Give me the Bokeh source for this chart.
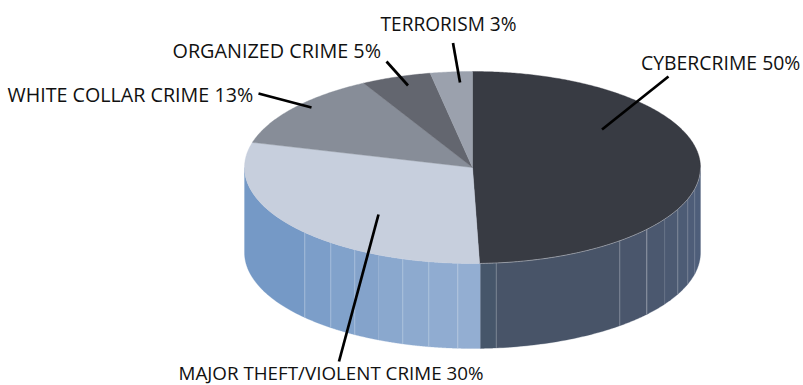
import numpy as np
from bokeh.core.properties import value
from bokeh.embed import file_html
from bokeh.models import ColumnDataSource, Range1d
from bokeh.plotting import figure
from bokeh.resources import INLINE

# Crime categories, clockwise from twelve o'clock
categories = ["CYBERCRIME", "MAJOR THEFT/VIOLENT CRIME", "WHITE COLLAR CRIME", "ORGANIZED CRIME", "TERRORISM"]
shares = [50, 30, 13, 5, 3]
top_colors = ["#383B43", "#C7CFDD", "#878D98", "#63666F", "#9BA1AD"]

# Disc geometry in page pixels
CX, CY, RX, RY, DEPTH = 472.0, 167.0, 228.0, 96.0, 85.0

# Label placement: text anchor, size, and leader line ends
label_anchor = [(640.5, 62), (178, 372.5), (7, 93.5), (172, 50), (380, 23)]
label_px = ["19.4px", "18.8px", "19.7px", "19.8px", "19.1px"]
leader_from = [(668, 76), (338.5, 361), (258, 93), (386, 61), (452.5, 42.5)]
leader_to = [(601.5, 129), (378, 214), (311, 107), (407.5, 85), (459.5, 82)]

# Wall facets: page x of each seam, with a shade for the band left of it
seam_x = [244.0, 304.3, 330.3, 354.3, 377.7, 402.3, 428.3, 457.3, 480.0,
          495.7, 619.3, 646.3, 664.3, 677.3, 687.3, 694.3, 700.0]
band_colors = ["#7599C6", "#7C9EC9", "#81A2CB", "#84A3CB", "#8AA8CE", "#8DAACF", "#90ACD1", "#93AED2",
               "#46566A", "#485468", "#4A566C", "#4B586F", "#4C5A72", "#4D5C75", "#4E5D78", "#4E5E7A"]
seam_alpha = [0, 0.28, 0.24, 0.24, 0.03, 0.22, 0.22, 0.26, 0, 0.22, 0.24, 0.34, 0.08, 0.22, 0.16, 0.12, 0]


def rim(deg, offset=0.0):
    t = np.radians(deg)
    return CX + RX * np.sin(t), CY - RY * np.cos(t) + offset


def front_y(x):
    return CY + RY * np.sqrt(np.clip(1 - ((x - CX) / RX) ** 2, 0, 1))


p = figure(width=803, height=385, output_backend="svg", toolbar_location=None,
           x_range=Range1d(0, 803), y_range=Range1d(385, 0),
           min_border=0, outline_line_color=None, background_fill_color="white")
p.axis.visible = False
p.grid.visible = False

edges = np.cumsum([0] + shares) / sum(shares) * 360.0
split = edges[1]

# Outer wall, one flat polygon per facet
wall_xs, wall_ys = [], []
for x0, x1 in zip(seam_x[:-1], seam_x[1:]):
    lo = np.degrees(np.arcsin((x0 - CX) / RX))
    hi = np.degrees(np.arcsin((x1 - CX) / RX))
    x = CX + RX * np.sin(np.radians(np.linspace(lo, hi, 40)))
    y = front_y(x)
    wall_xs.append([*x, *x[::-1]])
    wall_ys.append([*y, *(y[::-1] + DEPTH)])
p.patches(wall_xs, wall_ys, fill_color=band_colors, line_color=band_colors, line_width=0.3)

# Pale seams between facets
seam_xs = [[x, x] for x in seam_x]
seam_ys = [[front_y(x), front_y(x) + DEPTH] for x in seam_x]
p.multi_line(seam_xs, seam_ys, line_color="white", line_alpha=seam_alpha, line_width=1)

# Top face wedges
top_xs, top_ys = [], []
for lo, hi in zip(edges[:-1], edges[1:]):
    t = np.linspace(lo, hi, max(8, int(hi - lo) * 2))
    x, y = rim(t)
    top_xs.append([CX, *x])
    top_ys.append([CY, *y])
p.patches(top_xs, top_ys, fill_color=top_colors, line_color=top_colors, line_width=0.4)

# Thin highlight along the front rim of the dark wedge
x, y = rim(np.linspace(90, split, 120))
p.line(x, y, line_color="#C9CED8", line_alpha=0.7, line_width=0.8)

# Leader lines
p.segment([a[0] for a in leader_from], [a[1] for a in leader_from],
          [b[0] for b in leader_to], [b[1] for b in leader_to],
          line_color="black", line_width=2.7)

# Labels
src = ColumnDataSource(dict(
    x=[a[0] for a in label_anchor],
    y=[a[1] for a in label_anchor],
    size=label_px,
    text=[f"{c} {s}%" for c, s in zip(categories, shares)],
))
p.text("x", "y", text="text", source=src, text_font=value("Open Sans"), text_font_size="size",
       text_color="#111111", text_align="left", text_baseline="middle")

open("out.html", "w").write(file_html(p, INLINE))
